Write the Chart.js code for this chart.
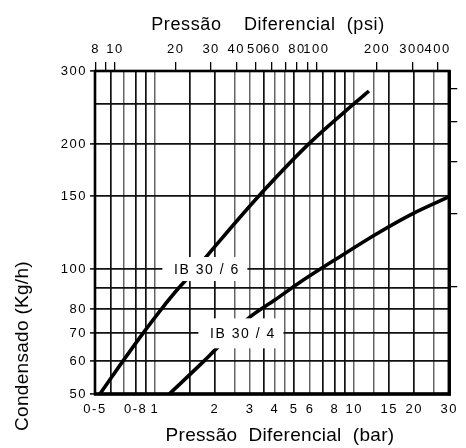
<!DOCTYPE html>
<html><head><meta charset="utf-8">
<script src="https://cdn.jsdelivr.net/npm/chart.js@4.4.1/dist/chart.umd.min.js"></script>
<style>html,body{margin:0;padding:0;background:#fff;}#wrap{width:466px;height:448px;}</style>
</head><body><div id="wrap"><canvas id="c" width="466" height="448"></canvas></div>
<script>
// ---- data ----
const pressureBar6 = [0.529, 0.69, 0.87, 1.075, 1.315, 1.607, 2.02, 3.32, 5.9, 10.25, 11.85];
const condensate6  = [50, 60, 70, 80, 90, 100, 114, 150, 200, 253, 268.5];
const pressureBar4 = [1.18, 1.76, 2.04, 2.94, 3.99, 5.21, 8.24, 13.05, 19.8, 30];
const condensate4  = [50, 60, 64.4, 76.1, 84.2, 92.2, 106.2, 121.8, 136.2, 149.4];
const curveNames = ['IB 30 / 6', 'IB 30 / 4'];
const labelBar = [1.78, 2.7];
const labelKg  = [100, 70];

const barGrid = [0.5,0.6,0.7,0.8,0.9,1,1.5,2,2.5,3,3.5,4,4.5,5,6,7,8,9,10,12.5,15,20,25,30];
const barLabels = {0.5:'0-5',0.8:'0-8',1:'1',2:'2',3:'3',4:'4',5:'5',6:'6',8:'8',10:'10',15:'15',20:'20',30:'30'};
const barGray = [0.7,1,2.5,3,4,4.5,6,10,12.5,25];
const psiTicks = [8,9,10,20,30,40,50,60,70,80,90,100,200,300,400];
const psiLabels = [8,10,20,30,40,50,60,80,100,200,300,400];
const kgGrid = [50,60,70,80,90,100,150,200,250,300];
const kgLabels = [50,60,70,80,100,150,200,300];
const lbTicks = [200,300,400,500,600];

const FONT = '"Liberation Sans", Arial, sans-serif';
function setTicks(vals){ return s => { s.ticks = vals.map(v => ({value: v})); }; }
const tickVal = c => (c && c.tick) ? c.tick.value : null;

const deco = {
  id: 'deco',
  beforeLayout(chart){ chart.ctx.letterSpacing = '1.5px'; },
  beforeDraw(chart){ chart.ctx.letterSpacing = '1.5px'; },
  afterDatasetsDraw(chart){
    const {ctx, scales:{x, y}} = chart;
    ctx.save();
    ctx.letterSpacing = '1.5px';
    ctx.font = '14px ' + FONT;
    ctx.textAlign = 'center'; ctx.textBaseline = 'middle';
    for (let i = 0; i < curveNames.length; i++){
      const cx = x.getPixelForValue(labelBar[i]);
      const cy = y.getPixelForValue(labelKg[i]);
      const w = 85, h = i === 0 ? 24 : 30;
      ctx.fillStyle = '#fff';
      ctx.fillRect(cx - w/2, cy - h/2, w, h);
      ctx.fillStyle = '#000';
      ctx.fillText(curveNames[i], cx + 2, cy + 1);
    }
    ctx.restore();
  },
  afterDraw(chart){
    const {ctx, chartArea:a} = chart;
    ctx.save();
    ctx.strokeStyle = '#000';
    ctx.lineWidth = 2.6;
    ctx.strokeRect(a.left, a.top, a.right - a.left, a.bottom - a.top);
    ctx.lineWidth = 3.4;
    ctx.beginPath(); ctx.moveTo(a.right, a.top - 1); ctx.lineTo(a.right, a.bottom + 1.5); ctx.stroke();
    ctx.beginPath(); ctx.moveTo(a.left - 1, a.bottom); ctx.lineTo(a.right + 1.5, a.bottom); ctx.stroke();
    ctx.fillStyle = '#000';
    ctx.letterSpacing = '0.6px';
    ctx.textAlign = 'center'; ctx.textBaseline = 'alphabetic';
    ctx.font = '18px ' + FONT;
    ctx.fillText('Pressão    Diferencial  (psi)', 268, 30);
    ctx.font = '19px ' + FONT;
    ctx.letterSpacing = '0.3px';
    ctx.fillText('Pressão  Diferencial  (bar)', 280, 441);
    ctx.translate(28, 346);
    ctx.rotate(-Math.PI/2);
    ctx.fillText('Condensado (Kg/h)', 0, 0);
    ctx.restore();
  }
};

const tickFont = {family: FONT, size: 13};

new Chart(document.getElementById('c'), {
  type: 'line',
  data: {
    datasets: [
      { label: curveNames[0], data: pressureBar6.map((p, i) => ({x: p, y: condensate6[i]})) },
      { label: curveNames[1], data: pressureBar4.map((p, i) => ({x: p, y: condensate4[i]})) }
    ].map(d => Object.assign(d, {
      borderColor: '#000', borderWidth: 3.6, pointRadius: 0, fill: false,
      cubicInterpolationMode: 'monotone', borderCapStyle: 'butt', xAxisID: 'x', yAxisID: 'y'
    }))
  },
  options: {
    responsive: false, animation: false,
    layout: {padding: 0},
    plugins: {legend: {display: false}, tooltip: {enabled: false}},
    scales: {
      x: {
        type: 'logarithmic', position: 'bottom', min: 0.5, max: 30,
        afterBuildTicks: setTicks(barGrid),
        afterFit: s => { s.height = 54; },
        border: {display: false},
        grid: {
          drawTicks: false,
          color: c => barGray.includes(tickVal(c)) ? '#666' : '#111',
          lineWidth: c => barGray.includes(tickVal(c)) ? 1.5 : 1.7
        },
        ticks: {autoSkip: false, maxRotation: 0, padding: 8, color: '#000', font: tickFont,
          callback: v => barLabels[v] !== undefined ? barLabels[v] : ''}
      },
      xPsi: {
        type: 'logarithmic', position: 'top', min: 7.95, max: 457,
        afterBuildTicks: setTicks(psiTicks),
        afterFit: s => { s.height = 71; },
        border: {display: false},
        grid: {drawOnChartArea: false, drawTicks: true, tickLength: 9, color: '#000', lineWidth: 1.3},
        ticks: {autoSkip: false, maxRotation: 0, padding: 5, color: '#000', font: tickFont,
          callback: v => psiLabels.includes(v) ? String(v) : ''}
      },
      y: {
        type: 'logarithmic', position: 'left', min: 50, max: 300,
        afterBuildTicks: setTicks(kgGrid),
        afterFit: s => { s.width = 95; },
        border: {display: false},
        grid: {color: '#111', lineWidth: 1.8, tickLength: 5, tickWidth: 1.5,
          tickColor: c => kgLabels.includes(tickVal(c)) ? '#000' : 'rgba(0,0,0,0)'},
        ticks: {autoSkip: false, padding: 3, color: '#000', font: tickFont,
          callback: v => kgLabels.includes(v) ? String(v) : ''}
      },
      yLb: {
        type: 'logarithmic', position: 'right', min: 50 * 2.20462, max: 300 * 2.20462,
        afterBuildTicks: setTicks(lbTicks),
        afterFit: s => { s.width = 13; },
        border: {display: false},
        grid: {drawOnChartArea: false, tickLength: 8, color: '#000', lineWidth: 1.3},
        ticks: {autoSkip: false, padding: 0, font: tickFont, callback: () => ''}
      }
    }
  },
  plugins: [deco]
});
</script>
</body></html>
